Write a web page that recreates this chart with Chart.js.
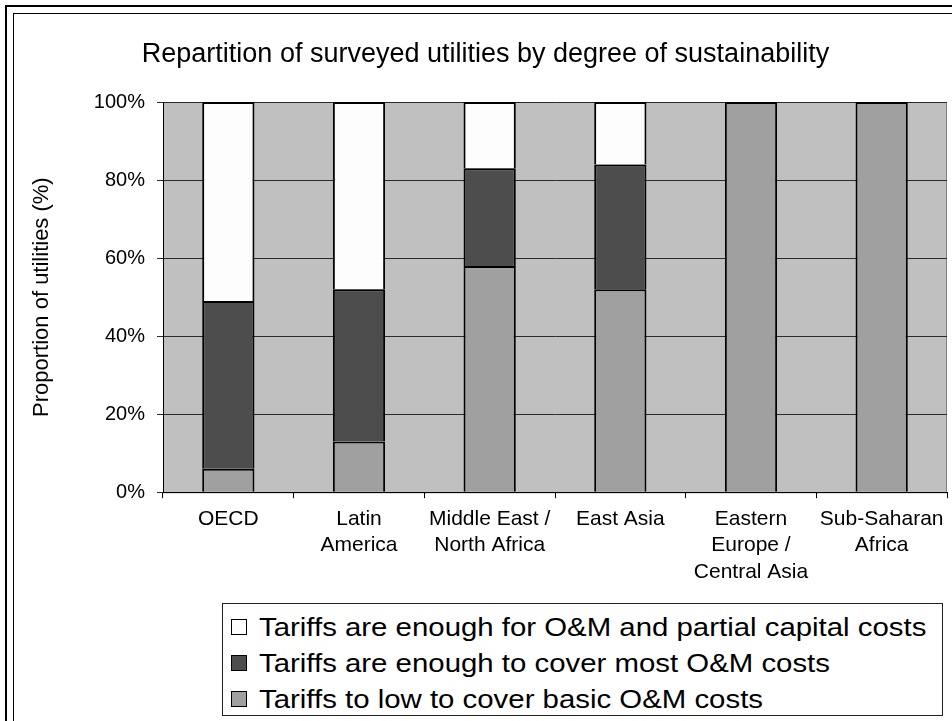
<!DOCTYPE html>
<html>
<head>
<meta charset="utf-8">
<script src="https://cdn.jsdelivr.net/npm/chart.js@4.4.1/dist/chart.umd.min.js"></script>
<style>
  body { margin: 0; background: #fff; }
  #wrap { position: relative; width: 952px; height: 721px; overflow: hidden; }
  #legend {
    position: absolute; left: 222px; top: 603px; width: 721px; height: 113px;
    border: 1px solid #222; background: #fff; box-sizing: border-box;
    font-family: 'Liberation Sans', Arial, sans-serif; font-size: 26px; color: #000;
    padding-top: 5px;
  }
  .item { height: 36px; display: flex; align-items: center; padding-left: 8px; }
  .box { width: 14px; height: 14px; border: 1px solid #000; margin-right: 12px; flex: none; }
  .txt { display: inline-block; transform: scaleX(1.13); transform-origin: left center; white-space: nowrap; }
</style>
</head>
<body>
<div id="wrap">
  <canvas id="myChart" width="952" height="721"></canvas>
  <div id="legend"></div>
</div>
<script>
const chartTitle = 'Repartition of surveyed utilities by degree of sustainability';
const yTitle = 'Proportion of utilities (%)';
const categories = [
  ['OECD'],
  ['Latin', 'America'],
  ['Middle East /', 'North Africa'],
  ['East Asia'],
  ['Eastern', 'Europe /', 'Central Asia'],
  ['Sub-Saharan', 'Africa']
];
// bottom -> top of each stack
const tooLow = [6, 13, 58, 52, 100, 100];
const mostOM = [43, 39, 25, 32, null, null];
const partialCapital = [51, 48, 17, 16, null, null];
const seriesNames = [
  'Tariffs to low to cover basic O&M costs',
  'Tariffs are enough to cover most O&M costs',
  'Tariffs are enough for O&M and partial capital costs'
];
const yTicks = [0, 20, 40, 60, 80, 100];

const FONT = "'Liberation Sans', Arial, sans-serif";

const backdrop = {
  id: 'backdrop',
  beforeDraw(chart) {
    const ctx = chart.ctx;
    const a = chart.chartArea;
    ctx.save();
    ctx.fillStyle = '#fff';
    ctx.fillRect(0, 0, chart.width, chart.height);
    // double frame, cut off at right/bottom like the original
    ctx.strokeStyle = '#000';
    ctx.lineWidth = 2;
    ctx.strokeRect(6, 6, 1000, 1000);
    ctx.lineWidth = 1;
    ctx.strokeRect(13.5, 13.5, 1000, 1000);
    // plot area
    ctx.fillStyle = '#c0c0c0';
    ctx.fillRect(a.left, a.top, a.right - a.left, a.bottom - a.top);
    ctx.strokeStyle = '#808080';
    ctx.strokeRect(a.left + 0.5, a.top + 0.5, a.right - a.left - 1, a.bottom - a.top);
    ctx.restore();
  }
};

function makeSet(label, data, color) {
  return {
    label: label,
    data: data,
    backgroundColor: color,
    borderColor: '#000',
    borderWidth: { top: 2, bottom: 0, left: 2, right: 2 },
    borderSkipped: false,
    barPercentage: 0.4,
    categoryPercentage: 1
  };
}

const chart = new Chart(document.getElementById('myChart'), {
  type: 'bar',
  data: {
    labels: categories,
    datasets: [
      makeSet(seriesNames[0], tooLow, '#a0a0a0'),
      makeSet(seriesNames[1], mostOM, '#4d4d4d'),
      makeSet(seriesNames[2], partialCapital, '#fdfdfd')
    ]
  },
  options: {
    responsive: false,
    animation: false,
    devicePixelRatio: 1,
    layout: { padding: { left: 24, right: 5, top: 0, bottom: 128 } },
    plugins: {
      legend: { display: false },
      tooltip: { enabled: false },
      title: {
        display: true,
        text: chartTitle,
        color: '#000',
        font: { family: FONT, size: 27, weight: 'normal' },
        padding: { top: 38, bottom: 31.6 }
      }
    },
    scales: {
      x: {
        stacked: true,
        grid: { display: true, drawOnChartArea: false, drawTicks: true, tickLength: 6, color: '#000', offset: true },
        border: { color: '#000', width: 1 },
        ticks: {
          color: '#000', padding: 8, maxRotation: 0, autoSkip: false,
          font: { family: FONT, size: 21, lineHeight: 1.25 }
        }
      },
      y: {
        stacked: true,
        min: 0,
        max: 100,
        afterFit(scale) { scale.width = 139; },
        afterBuildTicks(scale) { scale.ticks = yTicks.map(v => ({ value: v })); },
        grid: { color: '#2b2b2b', lineWidth: 1, tickLength: 6, drawTicks: true },
        border: { color: '#000', width: 1 },
        ticks: {
          color: '#000', padding: 12,
          font: { family: FONT, size: 20 },
          callback: v => v + '%'
        },
        title: {
          display: true,
          text: yTitle,
          color: '#000',
          font: { family: FONT, size: 22 },
          padding: { top: 5, bottom: 0 }
        }
      }
    }
  },
  plugins: [backdrop]
});

// legend: top series first, as in the original
const legendEl = document.getElementById('legend');
chart.data.datasets.slice().reverse().forEach(ds => {
  const row = document.createElement('div');
  row.className = 'item';
  const sw = document.createElement('span');
  sw.className = 'box';
  sw.style.background = ds.backgroundColor;
  const t = document.createElement('span');
  t.className = 'txt';
  t.textContent = ds.label;
  row.appendChild(sw);
  row.appendChild(t);
  legendEl.appendChild(row);
});
</script>
</body>
</html>
